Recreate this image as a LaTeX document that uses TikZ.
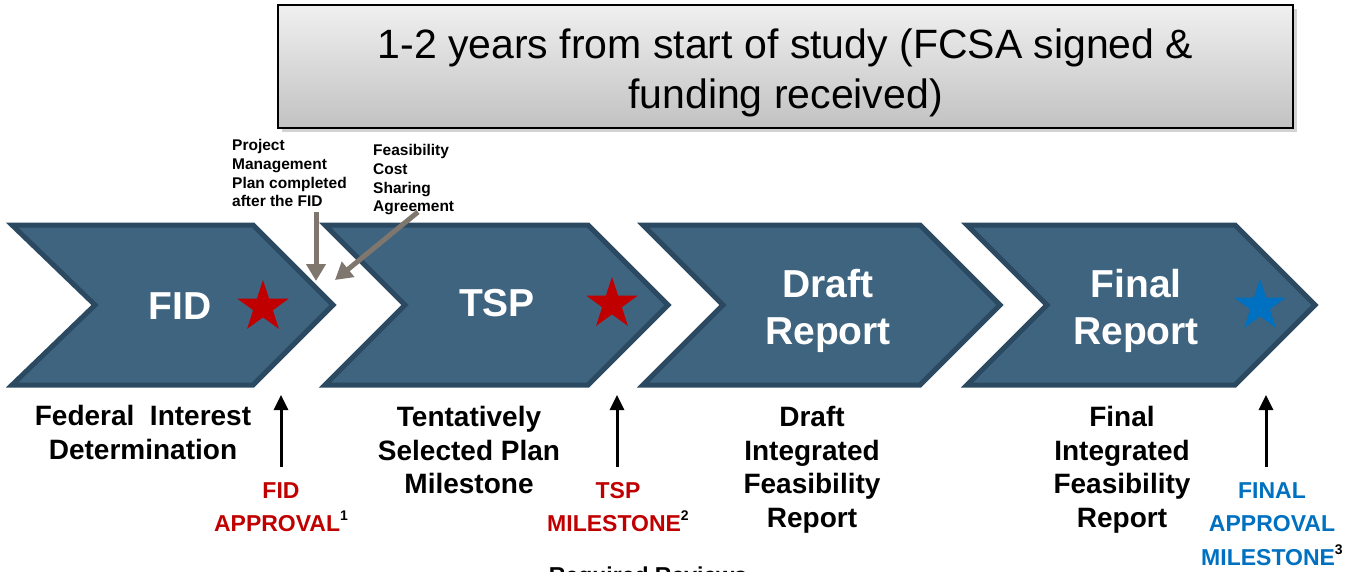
\documentclass[tikz,border=0pt]{standalone}
\usepackage{fontspec}
\setmainfont{Liberation Sans}
\usepackage{xcolor}
\usetikzlibrary{calc, positioning, arrows.meta, shapes.geometric, shadows}
\definecolor{chevblue}{RGB}{63,100,128}
\definecolor{chevedge}{RGB}{43,73,96}
\definecolor{fidred}{RGB}{192,0,0}
\definecolor{finblue}{RGB}{0,112,192}
\definecolor{notegray}{RGB}{127,118,110}
\tikzstyle{chev}=[draw=chevedge, fill=chevblue, line width=5pt, line join=miter]
\tikzstyle{phase}=[text=white, font=\bfseries\fontsize{39}{47}\selectfont, align=center, inner sep=0pt]
\tikzstyle{desc}=[font=\bfseries\fontsize{28}{33.5}\selectfont, align=center, inner sep=0pt]
\tikzstyle{mile}=[font=\bfseries\fontsize{23}{33.5}\selectfont, align=center, inner sep=0pt]
\tikzstyle{notetext}=[font=\bfseries\fontsize{15.5}{18.6}\selectfont, align=left, inner sep=0pt, anchor=north west]
\tikzstyle{mstar}=[star, star points=5, star point ratio=2.6, inner sep=0pt, minimum size=54pt]
\tikzstyle{uparrow}=[-{Triangle[length=15pt,width=14pt]}, line width=3pt]
\tikzstyle{grayarrow}=[-{Triangle[length=17pt,width=19pt]}, line width=5pt, draw=notegray, fill=notegray]
\newcommand{\supmark}[1]{\textcolor{black}{\raisebox{0.9ex}{\fontsize{14}{14}\selectfont #1}}}

\begin{document}
\begin{tikzpicture}[x=1pt, y=-1pt]
\useasboundingbox (0,0) rectangle (1350,571);

% time span box
\node[draw=black, line width=1.5pt, top color=gray!12, bottom color=gray!48,
      drop shadow={shadow xshift=4pt, shadow yshift=-4pt, opacity=0.35},
      minimum width=1015pt, minimum height=123pt, inner sep=0pt] (span) at (785.5,66.5) {};
\node[font=\fontsize{41}{50}\selectfont, align=center, inner sep=0pt] (spantext) at (785.5,73)
      {1-2 years from start of study (FCSA signed \&\\funding received)};

% chevrons
\draw[chev] (12,225) -- (253,225) -- (333,305) -- (253,385) -- (12,385) -- (95,305) -- cycle;
\draw[chev] (325,225) -- (588,225) -- (668,305) -- (588,385) -- (325,385) -- (405,305) -- cycle;
\draw[chev] (643,225) -- (920,225) -- (1000,305) -- (920,385) -- (643,385) -- (723,305) -- cycle;
\draw[chev] (967,225) -- (1235,225) -- (1315,305) -- (1235,385) -- (967,385) -- (1047,305) -- cycle;

\node[phase] (fid) at (180,306) {FID};
\node[phase] (tsp) at (497,303) {TSP};
\node[phase] (draft) at (828,311) {Draft\\Report};
\node[phase] (final) at (1136,311) {Final\\Report};

\node[mstar, fill=fidred] (fidstar) at (263,307) {};
\node[mstar, fill=fidred] (tspstar) at (612,304) {};
\node[mstar, fill=finblue] (finstar) at (1260,306) {};

% notes above
\node[notetext] (pmp) at (232,139.5) {Project\\Management\\Plan completed\\after the FID};
\node[notetext] (fcsa) at (373,144.5) {Feasibility\\Cost\\Sharing\\Agreement};
\coordinate (pmptail) at (316,212);
\coordinate (pmptip) at (316,281);
\coordinate (fcsatail) at (418,212);
\coordinate (fcsatip) at (335,280);
\draw[grayarrow] (pmptail) -- (pmptip);
\draw[grayarrow] (fcsatail) -- (fcsatip);

% labels below
\node[desc] (fiddesc) at (143,432.5) {Federal\ \ Interest\\Determination};
\node[desc] (tspdesc) at (469,450) {Tentatively\\Selected Plan\\Milestone};
\node[desc] (draftdesc) at (812,470) {Draft\\Integrated\\Feasibility\\Report};
\node[desc] (finaldesc) at (1122,470) {Final\\Integrated\\Feasibility\\Report};

\node[mile, text=fidred] (fidmile) at (281,507) {FID\\APPROVAL\supmark{1}};
\node[mile, text=fidred] (tspmile) at (618,507) {TSP\\MILESTONE\supmark{2}};
\node[mile, text=finblue] (finmile) at (1272,524) {FINAL\\APPROVAL\\MILESTONE\supmark{3}};

\coordinate (fidfoot) at (281,467);
\coordinate (fidhead) at (281,395);
\coordinate (tspfoot) at (617,467);
\coordinate (tsphead) at (617,395);
\coordinate (finfoot) at (1266,467);
\coordinate (finhead) at (1266,395);
\draw[uparrow] (fidfoot) -- (fidhead);
\draw[uparrow] (tspfoot) -- (tsphead);
\draw[uparrow] (finfoot) -- (finhead);

\node[font=\bfseries\fontsize{23}{28}\selectfont, anchor=base, inner sep=0pt] (reviews) at (648,583) {Required Reviews};
\end{tikzpicture}
\end{document}
